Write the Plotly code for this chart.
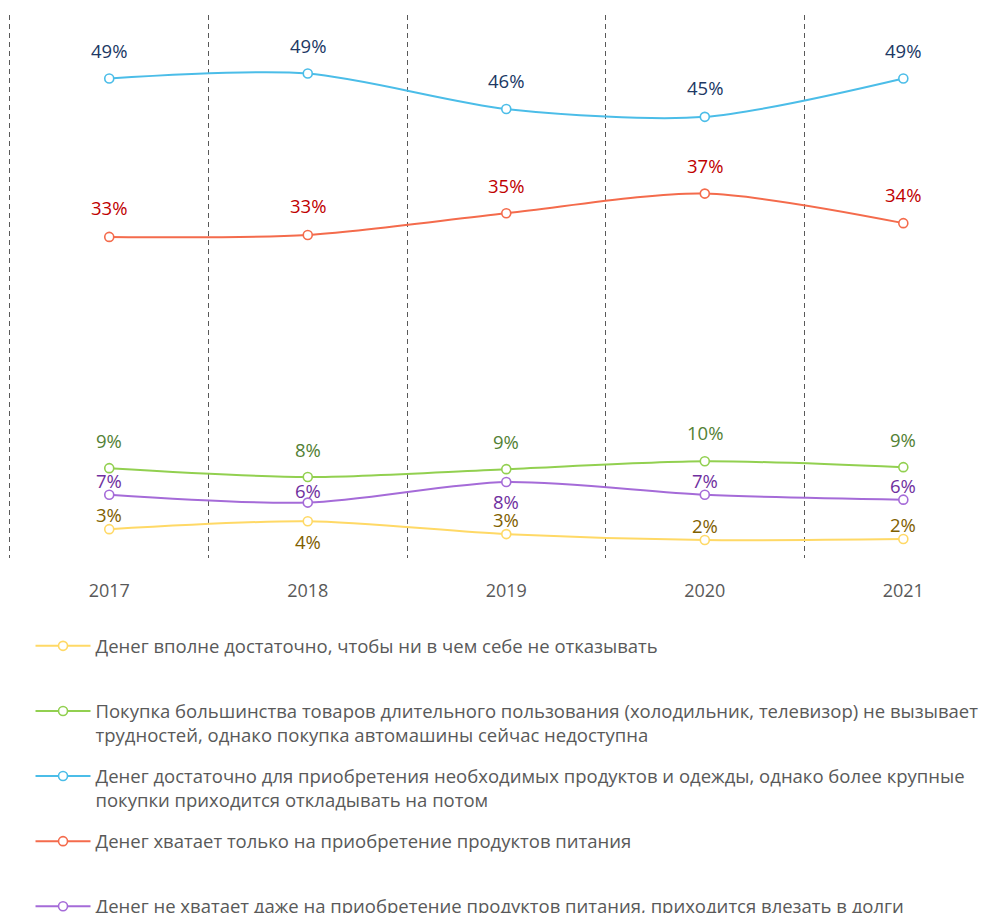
import plotly.graph_objects as go

years = ["2017", "2018", "2019", "2020", "2021"]

s_yellow_name = "Денег вполне достаточно, чтобы ни в чем себе не отказывать"
s_green_name = ("Покупка большинства товаров длительного пользования (холодильник, телевизор) не вызывает"
                "<br>трудностей, однако покупка автомашины сейчас недоступна")
s_blue_name = ("Денег достаточно для приобретения необходимых продуктов и одежды, однако более крупные"
               "<br>покупки приходится откладывать на потом")
s_red_name = "Денег хватает только на приобретение продуктов питания"
s_purple_name = "Денег не хватает даже на приобретение продуктов питания, приходится влезать в долги"

yellow_vals = [3.1, 3.9, 2.6, 2.0, 2.1]
green_vals = [9.3, 8.4, 9.2, 10.0, 9.4]
blue_vals = [48.9, 49.4, 45.8, 45.0, 48.9]
red_vals = [32.8, 33.0, 35.2, 37.2, 34.2]
purple_vals = [6.6, 5.8, 7.9, 6.6, 6.1]

FONT = "Open Sans"

series = [
    (s_yellow_name, yellow_vals, "#FFD966", "#7F6000", [15, -20, 15, 14, 15]),
    (s_green_name, green_vals, "#92D050", "#538135", [28, 28, 28, 29, 28]),
    (s_blue_name, blue_vals, "#4BBDE8", "#203864", [28, 28, 28, 29, 28]),
    (s_red_name, red_vals, "#F46B4C", "#C00000", [29, 29, 28, 28, 29]),
    (s_purple_name, purple_vals, "#A56BD8", "#7030A0", [14, 12, -20, 14, 14]),
]

fig = go.Figure()
annotations = []
for i, (name, vals, lc, tc, shifts) in enumerate(series):
    label = name if "<br>" in name else name + "<br> "
    fig.add_trace(go.Scatter(
        x=years, y=vals, name=label, mode="lines+markers",
        line=dict(color=lc, width=2, shape="spline", smoothing=0.8),
        marker=dict(symbol="circle", size=9, color="white", line=dict(color=lc, width=1.6)),
        legendgroup=f"g{i}",
        hoverinfo="skip",
    ))
    for j, (v, sh) in enumerate(zip(vals, shifts)):
        annotations.append(dict(
            xref="x", yref="y", x=j, y=v, text=f"{v:.0f}%", showarrow=False, yshift=sh,
            font=dict(family=FONT, size=18.5, color=tc),
        ))

fig.update_layout(
    width=992, height=913,
    margin=dict(l=0, r=0, t=7, b=363, autoexpand=False),
    plot_bgcolor="white", paper_bgcolor="white",
    font=dict(family=FONT, size=18, color="#595959"),
    annotations=annotations,
    showlegend=True,
    legend=dict(
        x=0.0227, xanchor="left", y=-0.1277, yanchor="top",
        orientation="v", traceorder="grouped", tracegroupgap=14,
        valign="top", itemwidth=55,
        font=dict(family=FONT, size=18.5, color="#595959"),
        bgcolor="rgba(0,0,0,0)",
    ),
    xaxis=dict(
        type="category", range=[-0.51, 4.487],
        tickson="boundaries", showgrid=True, griddash="5px,4px",
        gridcolor="#595959", gridwidth=1,
        showline=False, zeroline=False, ticks="",
        ticklabelstandoff=20,
        tickfont=dict(family=FONT, size=18, color="#595959"),
    ),
    yaxis=dict(
        range=[0.17, 55.35], showticklabels=False, showgrid=False,
        zeroline=False, showline=False, ticks="",
    ),
)

fig.write_html("out.html")
